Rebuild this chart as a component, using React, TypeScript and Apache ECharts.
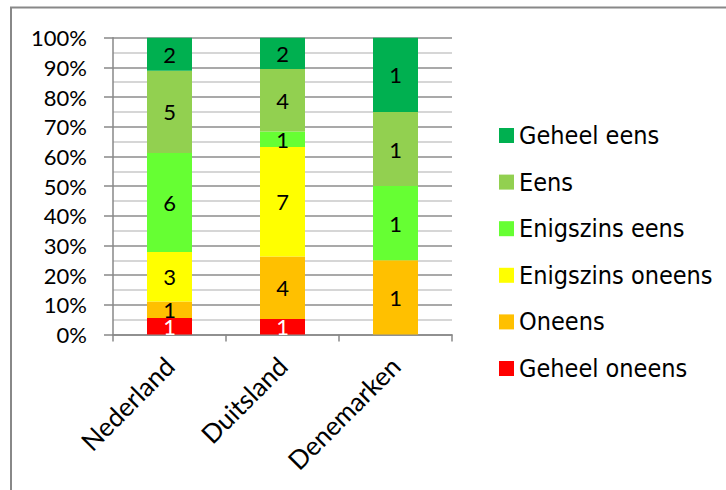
import React, { useEffect, useRef } from "react";
import * as echarts from "echarts";

const countries = ["Nederland", "Duitsland", "Denemarken"];
const seriesNames = ["Geheel oneens", "Oneens", "Enigszins oneens", "Enigszins eens", "Eens", "Geheel eens"];
const geheelOneens = [1, 1, 0];
const oneens = [1, 4, 1];
const enigszinsOneens = [3, 7, 0];
const enigszinsEens = [6, 1, 1];
const eens = [5, 4, 1];
const geheelEens = [2, 2, 1];
const colors = ["#FF0000", "#FFC000", "#FFFF00", "#66FF33", "#92D050", "#00B050"];
const legendOrder = ["Geheel eens", "Eens", "Enigszins eens", "Enigszins oneens", "Oneens", "Geheel oneens"];

export default function App() {
  const ref = useRef<HTMLDivElement>(null);
  useEffect(() => {
    if (!ref.current) return;
    const chart = echarts.init(ref.current, null, { renderer: "svg" });
    const all = [geheelOneens, oneens, enigszinsOneens, enigszinsEens, eens, geheelEens];
    const totals = countries.map((_, i) => all.reduce((s, arr) => s + arr[i], 0));
    const font = "Lato";
    const series = all.map((arr, si) => ({
      name: seriesNames[si],
      type: "bar",
      stack: "total",
      barWidth: 45,
      itemStyle: { color: colors[si] },
      label: {
        show: true,
        position: "inside",
        fontFamily: font,
        fontSize: 22,
        color: si === 0 ? "#ffffff" : "#000000",
        formatter: (p: any) => (arr[p.dataIndex] === 0 ? "" : String(arr[p.dataIndex])),
      },
      data: arr.map((v, i) => (v / totals[i]) * 100),
    }));
    chart.setOption({
      animation: false,
      grid: { left: 113, top: 37.7, right: 274, bottom: 155.5 },
      graphic: [
        {
          type: "rect",
          shape: { x: 11, y: 7.5, width: 760, height: 520 },
          style: { fill: "none", stroke: "#888888", lineWidth: 2 },
          silent: true,
        },
      ],
      legend: {
        data: legendOrder,
        orient: "vertical",
        left: 494,
        top: 118,
        itemWidth: 15,
        itemHeight: 15,
        itemGap: 21.6,
        icon: "rect",
        textStyle: { fontFamily: "DejaVu Sans Condensed", fontSize: 25, color: "#000" },
      },
      xAxis: {
        type: "category",
        data: countries,
        axisLine: { lineStyle: { color: "#888888", width: 1.5 } },
        axisTick: { show: true, length: 7, lineStyle: { color: "#888888", width: 1.5 } },
        axisLabel: { rotate: 45, margin: 27, fontFamily: font, fontSize: 26, color: "#000" },
      },
      yAxis: {
        type: "value",
        min: 0,
        max: 100,
        interval: 10,
        axisLine: { show: true, lineStyle: { color: "#888888", width: 1.5 } },
        axisTick: { show: true, length: 9, lineStyle: { color: "#888888", width: 1.5 } },
        axisLabel: { formatter: "{value}%", margin: 26, fontFamily: font, fontSize: 22, color: "#000" },
        splitLine: { show: true, lineStyle: { color: "#8c8c8c", width: 1.5 } },
        minorTick: { show: false, splitNumber: 2 },
        minorSplitLine: { show: true, lineStyle: { color: "#c8c8c8", width: 1.5 } },
      },
      series,
    });
    return () => chart.dispose();
  }, []);
  return (
    <div
      ref={ref}
      style={{ position: "fixed", left: 0, top: 0, width: 726, height: 490, background: "#fff" }}
    />
  );
}
